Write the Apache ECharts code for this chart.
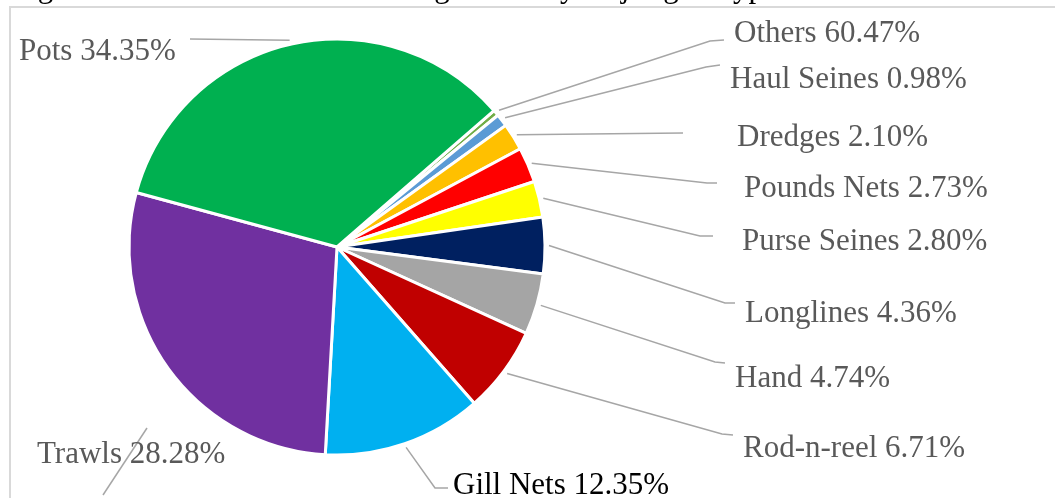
<!DOCTYPE html>
<html>
<head>
<meta charset="utf-8">
<style>
  html, body { margin: 0; padding: 0; background: #ffffff; }
  #chart { width: 1055px; height: 502px; }
</style>
<script src="https://cdn.jsdelivr.net/npm/echarts@6/dist/echarts.min.js"></script>
</head>
<body>
<div id="chart"></div>
<script>
// Gear types, listed clockwise from the small "Others" wedge at the top right
const gears = ['Others', 'Haul Seines', 'Dredges', 'Pounds Nets', 'Purse Seines',
  'Longlines', 'Hand', 'Rod-n-reel', 'Gill Nets', 'Trawls', 'Pots'];
// Share of total landings value (%)
const shares = [0.47, 0.98, 2.10, 2.73, 2.80, 4.36, 4.74, 6.71, 12.35, 28.28, 34.35];
// Printed percentage where the label text differs from the two-decimal share
const printedShare = { 'Others': '60.47%' };
const sliceColors = ['#70AD47', '#5B9BD5', '#FFC000', '#FF0000', '#FFFF00',
  '#002060', '#A5A5A5', '#C00000', '#00B0F0', '#7030A0', '#00B050'];

const titleText = 'Figure 5. Total commercial landings value by major gear type';

// Label placement: text anchor (left, middle) and leader-line bend/end points
const labelPlacement = [
  { x: 734, y: 34,  bend: [710, 41],  end: [724, 40] },
  { x: 730, y: 80,  bend: [706, 67],  end: [720, 65] },
  { x: 737, y: 138, bend: null,       end: [683, 133] },
  { x: 744, y: 189, bend: [707, 183], end: [717, 183] },
  { x: 742, y: 242, bend: [700, 236], end: [713, 236] },
  { x: 745, y: 314, bend: [725, 303], end: [735, 303] },
  { x: 735, y: 379, bend: [715, 362], end: [725, 363] },
  { x: 743, y: 449, bend: [722, 434], end: [733, 435] },
  { x: 453, y: 486, bend: [435, 488], end: [448, 488] },
  { x: 37,  y: 455, free: [[147, 428], [103, 495]] },
  { x: 19,  y: 52,  bend: null,       end: [190, 39] }
];

function labelFor(i) {
  const pct = printedShare[gears[i]] || (shares[i].toFixed(2) + '%');
  return gears[i] + ' ' + pct;
}

const pieData = gears.map(function (g, i) {
  const item = { name: g, value: shares[i], itemStyle: { color: sliceColors[i] } };
  if (g === 'Gill Nets') item.label = { color: '#000000' };
  return item;
});

const chart = echarts.init(document.getElementById('chart'), null, { renderer: 'canvas' });

chart.setOption({
  animation: false,
  backgroundColor: '#ffffff',
  graphic: [
    {
      type: 'polyline',
      silent: true,
      shape: { points: [[10, 498], [10, 7], [1060, 7]] },
      style: { stroke: '#d9d9d9', lineWidth: 2, fill: null }
    },
    {
      type: 'text',
      silent: true,
      x: 12,
      y: -11,
      style: {
        text: titleText,
        font: '31px "Liberation Serif"',
        fill: '#000000',
        align: 'left',
        verticalAlign: 'middle'
      }
    }
  ],
  series: [{
    type: 'pie',
    center: [337, 247],
    radius: 208,
    startAngle: 41,
    clockwise: true,
    avoidLabelOverlap: false,
    minShowLabelAngle: 0,
    data: pieData,
    itemStyle: { borderColor: '#ffffff', borderWidth: 3 },
    label: {
      show: true,
      position: 'outer',
      alignTo: 'none',
      formatter: function (p) { return labelFor(p.dataIndex); },
      fontFamily: '"Liberation Serif", "Times New Roman", serif',
      fontSize: 31,
      color: '#595959'
    },
    labelLine: {
      show: true,
      length: 12,
      length2: 10,
      smooth: false,
      lineStyle: { color: '#a6a6a6', width: 1.5 }
    },
    emphasis: { disabled: true },
    labelLayout: function (p) {
      const L = labelPlacement[p.dataIndex];
      const out = { x: L.x, y: L.y, align: 'left', verticalAlign: 'middle', hideOverlap: false, moveOverlap: null };
      if (L.free) {
        out.labelLinePoints = L.free;
        return out;
      }
      const pts = p.labelLinePoints;
      if (pts && pts.length >= 2) {
        const dx = pts[1][0] - pts[0][0];
        const dy = pts[1][1] - pts[0][1];
        const d = Math.sqrt(dx * dx + dy * dy) || 1;
        const start = [pts[0][0] + dx / d * 4, pts[0][1] + dy / d * 4];
        out.labelLinePoints = L.bend ? [start, L.bend, L.end] : [start, L.end];
      }
      return out;
    }
  }]
});
</script>
</body>
</html>
